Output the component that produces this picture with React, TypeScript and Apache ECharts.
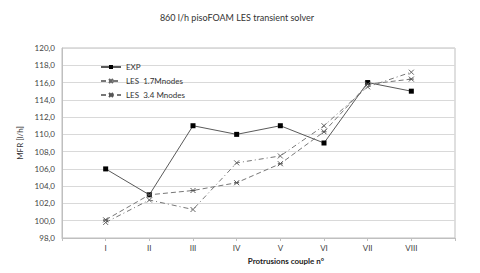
import React, { useEffect, useRef } from "react";
import * as echarts from "echarts";

const categories = ["I", "II", "III", "IV", "V", "VI", "VII", "VIII"];
const expValues = [106.0, 103.0, 111.0, 110.0, 111.0, 109.0, 116.0, 115.0];
const les17Values = [99.8, 102.4, 101.3, 106.7, 107.5, 111.0, 115.5, 117.2];
const les34Values = [100.1, 103.0, 103.5, 104.4, 106.6, 110.3, 115.8, 116.4];
const seriesNames = ["EXP", "LES  1.7Mnodes", "LES  3.4 Mnodes"];

const FONT = "Lato, 'Open Sans', sans-serif";
const CROSS = "path://M0,0L10,10M10,0L0,10";
const STAR = "path://M0,0L10,10M10,0L0,10M0,5L10,5";

export default function App() {
  const ref = useRef<HTMLDivElement>(null);
  useEffect(() => {
    if (!ref.current) return;
    const chart = echarts.init(ref.current, undefined, { renderer: "svg" });
    const toPts = (vals: number[]) => vals.map((v, i) => [i + 1, v]);
    chart.setOption({
      animation: false,
      backgroundColor: "#ffffff",
      title: {
        text: "860 l/h pisoFOAM LES transient solver",
        left: 232,
        textAlign: "center",
        top: 8,
        textStyle: { fontFamily: FONT, fontSize: 9, fontWeight: "normal", color: "#333" },
      },
      legend: {
        orient: "vertical",
        left: 95,
        top: 58,
        itemWidth: 20,
        itemHeight: 5,
        itemGap: 6,
        textStyle: { fontFamily: FONT, fontSize: 8, color: "#333" },
        data: seriesNames,
      },
      grid: {
        left: 62,
        right: 25,
        top: 48,
        bottom: 35,
        show: true,
        borderColor: "#bfbfbf",
        borderWidth: 1,
      },
      xAxis: {
        type: "value",
        min: 0,
        max: 9,
        interval: 1,
        name: "Protrusions couple n°",
        nameLocation: "middle",
        nameGap: 19,
        nameTextStyle: { fontFamily: FONT, fontSize: 8, fontWeight: "bold", color: "#222", padding: [0, 0, 0, 55] },
        axisLine: { show: true, lineStyle: { color: "#bfbfbf" } },
        axisTick: { show: true, length: 3, lineStyle: { color: "#bfbfbf" } },
        splitLine: { show: false },
        axisLabel: {
          fontFamily: FONT,
          fontSize: 8,
          color: "#444",
          margin: 6,
          formatter: (v: number) => (v >= 1 && v <= categories.length ? categories[v - 1] : ""),
        },
      },
      yAxis: {
        type: "value",
        min: 98,
        max: 120,
        interval: 2,
        name: "MFR [l/h]",
        nameLocation: "middle",
        nameGap: 30,
        nameTextStyle: { fontFamily: FONT, fontSize: 8, color: "#333" },
        axisLine: { show: true, lineStyle: { color: "#bfbfbf" } },
        axisTick: { show: false },
        splitLine: { show: true, lineStyle: { color: "#d9d9d9" } },
        axisLabel: {
          fontFamily: FONT,
          fontSize: 8,
          color: "#444",
          margin: 7,
          formatter: (v: number) => v.toFixed(1).replace(".", ","),
        },
      },
      series: [
        {
          name: seriesNames[0],
          type: "line",
          data: toPts(expValues),
          symbol: "rect",
          symbolSize: 5,
          lineStyle: { color: "#595959", width: 1 },
          itemStyle: { color: "#000000" },
        },
        {
          name: seriesNames[1],
          type: "line",
          data: toPts(les17Values),
          symbol: CROSS,
          symbolSize: 5,
          lineStyle: { color: "#777777", width: 1, type: [5, 3, 1, 3] },
          itemStyle: { color: "transparent", borderColor: "#666666", borderWidth: 1 },
        },
        {
          name: seriesNames[2],
          type: "line",
          data: toPts(les34Values),
          symbol: STAR,
          symbolSize: 5,
          lineStyle: { color: "#777777", width: 1, type: [5, 3] },
          itemStyle: { color: "transparent", borderColor: "#555555", borderWidth: 1 },
        },
      ],
    });
    return () => chart.dispose();
  }, []);
  return (
    <div
      ref={ref}
      style={{ position: "fixed", left: 0, top: 0, width: 480, height: 273 }}
    />
  );
}
